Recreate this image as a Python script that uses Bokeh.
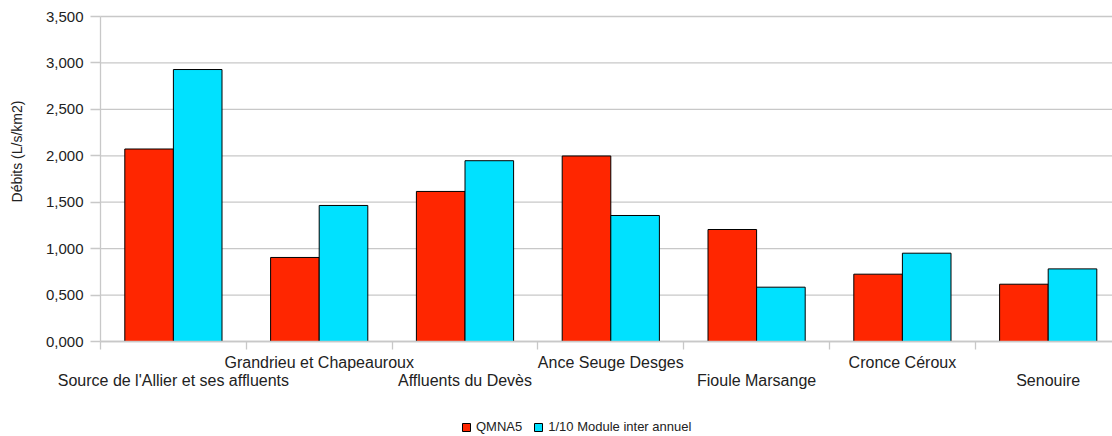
import numpy as np
from bokeh.plotting import figure
from bokeh.models import (Range1d, FixedTicker, Legend, LegendItem, LinearAxis,
                          CustomJSTickFormatter, ColumnDataSource)
from bokeh.core.properties import value
from bokeh.transform import dodge
from bokeh.embed import file_html
from bokeh.resources import INLINE

categories = ["Source de l'Allier et ses affluents", "Grandrieu et Chapeauroux",
              "Affluents du Devès", "Ance Seuge Desges", "Fioule Marsange",
              "Cronce Céroux", "Senouire"]
qmna5 = [2.073, 0.905, 1.616, 1.998, 1.206, 0.725, 0.617]
module_10 = [2.929, 1.465, 1.947, 1.357, 0.585, 0.951, 0.782]
series_names = ["QMNA5", "1/10 Module inter annuel"]
y_ticks = [0, 0.5, 1.0, 1.5, 2.0, 2.5, 3.0, 3.5]
y_title = "Débits (L/s/km2)"

RED = "#ff2600"
CYAN = "#00e1ff"
GRID = "#c8c8c8"
FONT = "Liberation Sans"
TXT = "#222222"

# page geometry (pixels)
W, H = 1112, 436
ORIGIN_X, ORIGIN_Y = 100, 341          # where the axes cross
PX_PER_CAT = 145.8
PX_PER_UNIT = 325 / y_ticks[-1]

x_start = -ORIGIN_X / PX_PER_CAT
x_end = x_start + W / PX_PER_CAT
y_end = ORIGIN_Y / PX_PER_UNIT
y_start = -(H - ORIGIN_Y) / PX_PER_UNIT

centers = [i + 0.5 for i in range(len(categories))]
boundaries = list(range(0, len(categories)))

p = figure(width=W, height=H, output_backend="svg", toolbar_location=None,
           x_range=Range1d(x_start, x_end), y_range=Range1d(y_start, y_end),
           min_border_left=0, min_border_right=0, min_border_top=0,
           min_border_bottom=0, x_axis_location=None)
p.outline_line_color = None
p.background_fill_color = "white"
p.border_fill_color = "white"
p.xgrid.grid_line_color = None
p.ygrid.grid_line_color = None

# horizontal grid lines, from the value axis to the right edge
p.segment(x0=[0] * len(y_ticks), x1=[x_end] * len(y_ticks), y0=y_ticks, y1=y_ticks,
          line_color=GRID, line_width=1.3)

src = ColumnDataSource(dict(x=centers, q=qmna5, m=module_10))
r1 = p.vbar(x=dodge("x", -1/6), top="q", width=1/3, source=src,
            fill_color=RED, line_color="black", line_width=1)
r2 = p.vbar(x=dodge("x", 1/6), top="m", width=1/3, source=src,
            fill_color=CYAN, line_color="black", line_width=1)

# value axis pinned at category position 0
yax = p.yaxis[0]
yax.fixed_location = 0
yax.bounds = (y_ticks[0], y_ticks[-1])
yax.ticker = FixedTicker(ticks=y_ticks)
yax.formatter = CustomJSTickFormatter(code="return tick.toFixed(3).replace('.', ',');")
yax.axis_line_color = GRID
yax.axis_line_width = 1.3
yax.major_tick_line_color = GRID
yax.major_tick_line_width = 1.3
yax.major_tick_out = 10
yax.major_tick_in = 0
yax.minor_tick_line_color = None
yax.major_label_text_font = FONT
yax.major_label_text_font_size = "15px"
yax.major_label_text_color = TXT
yax.major_label_standoff = 7

# value-axis title
p.text(x=[(16 - ORIGIN_X) / PX_PER_CAT], y=[(ORIGIN_Y - 151) / PX_PER_UNIT],
       text=[y_title], angle=np.pi / 2, text_align="center", text_baseline="middle",
       text_font=value(FONT), text_font_size="14px", text_color=TXT)

# category axis pinned at value 0: boundary ticks + upper row, then lower row
upper = {c: (categories[i] if i % 2 == 1 else "") for i, c in enumerate(centers)}
lower = {c: (categories[i] if i % 2 == 0 else "") for i, c in enumerate(centers)}

xax1 = LinearAxis(ticker=FixedTicker(ticks=centers, minor_ticks=boundaries),
                  major_label_overrides=upper, fixed_location=0,
                  bounds=(0, len(categories)))
xax1.axis_line_color = GRID
xax1.axis_line_width = 1.3
xax1.major_tick_line_color = None
xax1.major_tick_out = 0
xax1.major_tick_in = 0
xax1.minor_tick_line_color = GRID
xax1.minor_tick_line_width = 1.3
xax1.minor_tick_out = 8
xax1.minor_tick_in = 0
xax1.major_label_text_font = FONT
xax1.major_label_text_font_size = "16px"
xax1.major_label_text_color = TXT
xax1.major_label_standoff = 4
p.add_layout(xax1, "below")

xax2 = LinearAxis(ticker=FixedTicker(ticks=centers), major_label_overrides=lower,
                  fixed_location=0, bounds=(0, len(categories)))
xax2.axis_line_color = None
xax2.major_tick_line_color = None
xax2.major_tick_out = 0
xax2.major_tick_in = 0
xax2.minor_tick_line_color = None
xax2.major_label_text_font = FONT
xax2.major_label_text_font_size = "16px"
xax2.major_label_text_color = TXT
xax2.major_label_standoff = 30
p.add_layout(xax2, "below")

legend = Legend(items=[LegendItem(label=series_names[0], renderers=[r1]),
                       LegendItem(label=series_names[1], renderers=[r2])],
                orientation="horizontal", location=(461, 2), margin=0, padding=3,
                glyph_width=10, glyph_height=10, label_standoff=5, spacing=11,
                label_text_font=FONT, label_text_font_size="13px",
                label_text_color=TXT, border_line_color=None,
                background_fill_alpha=0, label_height=12)
p.add_layout(legend, "center")

open("out.html", "w").write(file_html(p, INLINE))
